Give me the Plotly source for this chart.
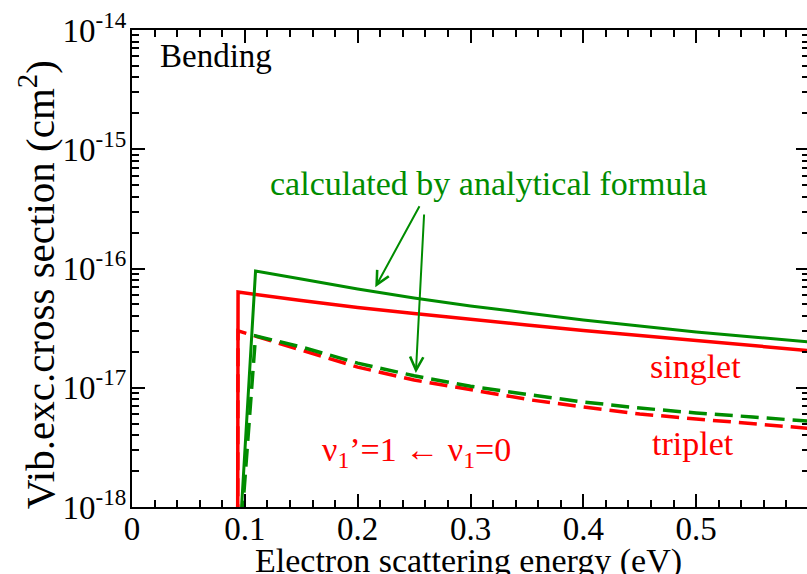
import plotly.graph_objects as go

# ---- data ----
energy_singlet = [0.0935, 0.094, 0.15, 0.2, 0.25, 0.3, 0.35, 0.4, 0.45, 0.5, 0.55, 0.6]
xs_singlet     = [1e-19, 6.35e-17, 5.39e-17, 4.71e-17, 4.20e-17, 3.74e-17, 3.36e-17,
                  3.02e-17, 2.74e-17, 2.49e-17, 2.26e-17, 2.05e-17]

energy_triplet = [0.0935, 0.094, 0.15, 0.2, 0.25, 0.3, 0.354, 0.4, 0.45, 0.5, 0.55, 0.6]
xs_triplet     = [1e-19, 3.0e-17, 2.07e-17, 1.49e-17, 1.16e-17, 9.57e-18, 7.89e-18,
                  6.90e-18, 6.03e-18, 5.47e-18, 4.97e-18, 4.57e-18]

energy_singlet_formula = [0.0965, 0.1095, 0.15, 0.2, 0.25, 0.3, 0.35, 0.4, 0.45, 0.5, 0.55, 0.6]
xs_singlet_formula     = [8e-19, 9.53e-17, 8.17e-17, 6.73e-17, 5.66e-17, 4.85e-17, 4.24e-17,
                          3.70e-17, 3.30e-17, 2.94e-17, 2.67e-17, 2.42e-17]

energy_triplet_formula = [0.0975, 0.1095, 0.15, 0.2, 0.25, 0.3, 0.354, 0.4, 0.45, 0.5, 0.55, 0.6]
xs_triplet_formula     = [8e-19, 2.72e-17, 2.20e-17, 1.61e-17, 1.26e-17, 1.03e-17, 8.69e-18,
                          7.60e-18, 6.76e-18, 6.14e-18, 5.69e-18, 5.24e-18]

x_tick_vals = [0, 0.1, 0.2, 0.3, 0.4, 0.5]
x_tick_text = ["0", "0.1", "0.2", "0.3", "0.4", "0.5"]
y_tick_vals = [1e-18, 1e-17, 1e-16, 1e-15, 1e-14]
y_tick_text = ["10<sup>-18</sup>", "10<sup>-17</sup>", "10<sup>-16</sup>", "10<sup>-15</sup>", "10<sup>-14</sup>"]

RED = "#ff0000"
GREEN = "#008c00"
FONT = "Liberation Serif"

W, H = 811, 574
ML, MR, MT, MB = 132, 0, 30, 67
PW, PH = W - ML - MR, H - MT - MB


def px(x):
    return (x - ML) / PW


def py(y):
    return (H - MB - y) / PH


fig = go.Figure()
fig.add_trace(go.Scatter(x=energy_singlet, y=xs_singlet, mode="lines",
                         line=dict(color=RED, width=3.5)))
fig.add_trace(go.Scatter(x=energy_triplet, y=xs_triplet, mode="lines",
                         line=dict(color=RED, width=3.5, dash="18px,8px")))
fig.add_trace(go.Scatter(x=energy_singlet_formula, y=xs_singlet_formula, mode="lines",
                         line=dict(color=GREEN, width=3)))
fig.add_trace(go.Scatter(x=energy_triplet_formula, y=xs_triplet_formula, mode="lines",
                         line=dict(color=GREEN, width=3.5, dash="18px,8px")))
# empty trace so the minor-tick overlay axis gets drawn
fig.add_trace(go.Scatter(x=[], y=[], yaxis="y2", hoverinfo="skip", showlegend=False))

minor_y = [k * 10.0 ** e for e in range(-18, -14) for k in range(2, 10)]

fig.update_layout(
    width=W, height=H,
    margin=dict(l=ML, r=MR, t=MT, b=MB, pad=0),
    plot_bgcolor="white", paper_bgcolor="white",
    showlegend=False,
    font=dict(family=FONT, color="black"),
)
fig.update_xaxes(
    range=[0, 0.6], tickvals=x_tick_vals, ticktext=x_tick_text,
    ticks="inside", ticklen=13, tickwidth=2, tickcolor="black",
    showline=True, linewidth=2, linecolor="black", mirror="ticks",
    showgrid=False, zeroline=False, tickfont=dict(size=33, family=FONT),
    ticklabelstandoff=-9,
    minor=dict(ticks="inside", ticklen=7, tickwidth=2, tickcolor="black",
               dtick=0.02, tick0=0, showgrid=False),
)
fig.update_layout(
    yaxis=dict(
        type="log", range=[-18, -14], tickvals=y_tick_vals, ticktext=y_tick_text,
        ticks="inside", ticklen=13, tickwidth=2, tickcolor="black",
        showline=True, linewidth=2, linecolor="black", mirror="ticks",
        showgrid=False, zeroline=False, tickfont=dict(size=33, family=FONT),
        ticklabelstandoff=-3,
    ),
    yaxis2=dict(
        type="log", range=[-18, -14], overlaying="y", side="left", anchor="x",
        tickmode="array", tickvals=minor_y, showticklabels=False,
        ticks="inside", ticklen=7, tickwidth=2, tickcolor="black",
        showline=True, linewidth=2, linecolor="black", mirror="ticks",
        showgrid=False, zeroline=False,
    ),
)


def txt(text, x, y, size=34, color="black", xanchor="center", angle=0):
    fig.add_annotation(text=text, x=px(x), y=py(y), xref="paper", yref="paper",
                       showarrow=False, xanchor=xanchor, yanchor="middle",
                       textangle=angle, font=dict(size=size, color=color, family=FONT))


txt("Bending", 158, 56, size=33, xanchor="left")
txt("calculated by analytical formula", 490, 184, color=GREEN)
txt("singlet", 697, 366, color=RED)
txt("triplet", 695, 443, color=RED)
txt("ν<sub>1</sub>’=1 ← ν<sub>1</sub>=0", 417, 452, color=RED)
txt("Vib.exc.cross section (cm<sup>2</sup>)", 37, 285, size=41, angle=-90)
txt("Electron scattering energy (eV)", 469, 561)


def arrow(hx, hy, tx, ty):
    fig.add_annotation(text="", x=px(hx), y=py(hy), xref="paper", yref="paper",
                       showarrow=True, ax=tx - hx, ay=ty - hy, axref="pixel", ayref="pixel",
                       arrowhead=5, arrowsize=1.3, arrowwidth=2, arrowcolor=GREEN, standoff=0)


arrow(376, 287.3, 421, 204.7)
arrow(416.7, 373, 425, 213)

fig.write_html("out.html",
               config={"displayModeBar": False},
               post_script="document.body.style.margin='0px';"
                           "document.body.style.overflow='hidden';"
                           "document.documentElement.style.overflow='hidden';")
